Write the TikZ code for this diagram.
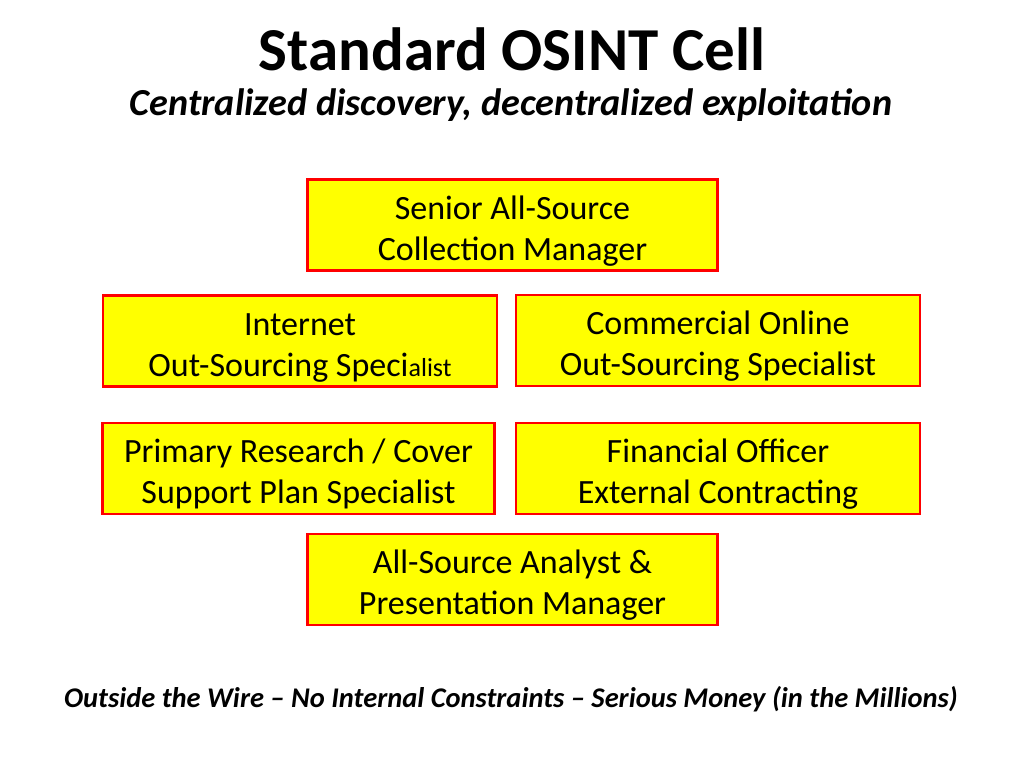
\documentclass[tikz,border=0pt]{standalone}
\usepackage{fontspec}
\setmainfont{Carlito}
\definecolor{cellyellow}{RGB}{255,255,0}
\definecolor{cellred}{RGB}{255,0,0}
\newcommand{\toprow}{\rule{0pt}{17.5pt}}
\tikzset{
  role/.style={draw=cellred, fill=cellyellow, line width=1.4pt, align=center,
    inner sep=0pt, font=\fontsize{17}{20.5}\selectfont},
  widebox/.style={role, minimum width=203pt, minimum height=45.5pt},
}
\begin{document}
\begin{tikzpicture}[x=0.5pt,y=-0.5pt]
  \useasboundingbox[fill=white] (0,0) rectangle (1024,768);
  % headings
  \node (title) at (512,49) {\fontsize{30.5}{36}\bfseries\selectfont Standard OSINT Cell};
  \node (subtitle) at (511,105) {\fontsize{19.1}{23}\bfseries\itshape\selectfont Centralized discovery, decentralized exploitation};
  % the cell
  \node[widebox, minimum width=205pt] (senior) at (512.5,225) {\toprow Senior All-Source\\Collection Manager};
  \node[widebox, minimum width=197pt] (internet) at (300,341) {\toprow Internet\\Out-Sourcing Speci{\fontsize{13}{15}\selectfont alist}};
  \node[widebox, minimum width=202pt] (commercial) at (718,340.5) {\toprow Commercial Online\\Out-Sourcing Specialist};
  \node[widebox, minimum width=196pt] (primary) at (298.5,468.5) {\toprow Primary Research / Cover\\Support Plan Specialist};
  \node[widebox, minimum width=202pt] (financial) at (718,468.5) {\toprow Financial Officer\\External Contracting};
  \node[widebox, minimum width=205pt] (analyst) at (512.5,579.5) {\toprow All-Source Analyst \&\\Presentation Manager};
  % footer
  \node (footer) at (511,699) {\fontsize{14.25}{17}\bfseries\itshape\selectfont Outside the Wire -- No Internal Constraints -- Serious Money (in the Millions)};
\end{tikzpicture}
\end{document}
